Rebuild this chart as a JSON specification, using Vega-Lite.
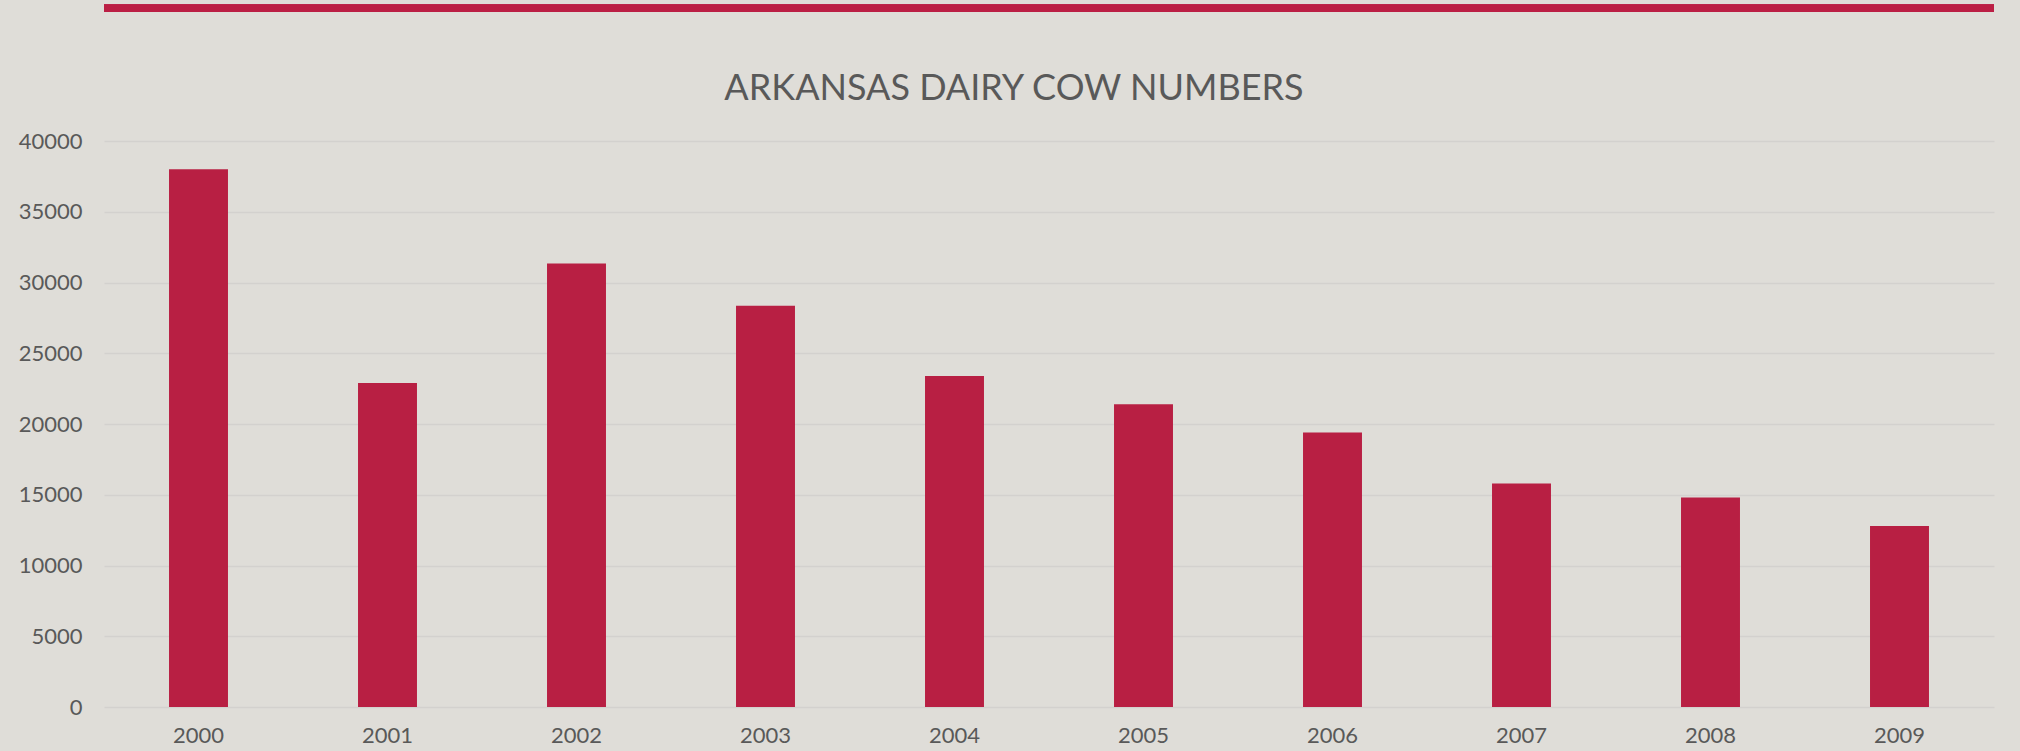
{
  "$schema": "https://vega.github.io/schema/vega-lite/v6.json",
  "autosize": "none",
  "width": 1890,
  "height": 566,
  "padding": {"left": 104, "top": 141, "right": 26, "bottom": 44},
  "background": "#dfddd8",
  "title": {
    "text": "ARKANSAS DAIRY COW NUMBERS",
    "font": "Lato",
    "fontSize": 36,
    "fontWeight": "normal",
    "color": "#595959",
    "anchor": "middle",
    "dx": -35,
    "offset": -103
  },
  "data": {
    "values": [
      {"year": "2000", "cows": 38000},
      {"year": "2001", "cows": 22900},
      {"year": "2002", "cows": 31350},
      {"year": "2003", "cows": 28350},
      {"year": "2004", "cows": 23400},
      {"year": "2005", "cows": 21400},
      {"year": "2006", "cows": 19400},
      {"year": "2007", "cows": 15800},
      {"year": "2008", "cows": 14800},
      {"year": "2009", "cows": 12800}
    ]
  },
  "layer": [
    {
      "mark": {"type": "bar", "color": "#b81f43"},
      "encoding": {
        "x": {
          "field": "year",
          "type": "nominal",
          "scale": {"paddingInner": 0.688, "paddingOuter": 0.344},
          "axis": {
            "title": null,
            "labelAngle": 0,
            "ticks": false,
            "domain": false,
            "grid": false,
            "labelFont": "Lato",
            "labelFontSize": 22,
            "labelColor": "#595959",
            "labelPadding": 18
          }
        },
        "y": {
          "field": "cows",
          "type": "quantitative",
          "scale": {"domain": [0, 40000], "nice": false},
          "axis": {
            "title": null,
            "values": [0, 5000, 10000, 15000, 20000, 25000, 30000, 35000, 40000],
            "format": "d",
            "ticks": false,
            "domain": false,
            "grid": true,
            "gridColor": "#d3d1ce",
            "gridWidth": 1.5,
            "labelFont": "Lato",
            "labelFontSize": 22,
            "labelColor": "#595959",
            "labelPadding": 22
          }
        }
      }
    },
    {
      "mark": {"type": "rule", "color": "#bb1f44", "strokeWidth": 7, "clip": false},
      "encoding": {
        "y": {"datum": 49380, "type": "quantitative", "scale": {"domain": [0, 40000], "nice": false}}
      }
    }
  ],
  "config": {
    "view": {"stroke": null}
  }
}
